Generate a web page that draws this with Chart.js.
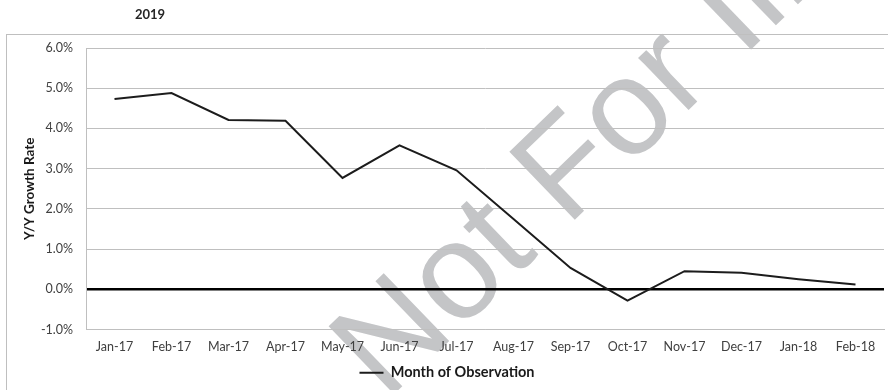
<!DOCTYPE html>
<html>
<head>
<meta charset="utf-8">
<script src="https://cdn.jsdelivr.net/npm/chart.js@4"></script>
<style>
  html, body { margin: 0; padding: 0; background: #fff; }
  #wrap { width: 888px; height: 390px; }
</style>
</head>
<body>
<div id="wrap"><canvas id="myChart" width="888" height="390"></canvas></div>
<script>
// chart data
var months = ['Jan-17', 'Feb-17', 'Mar-17', 'Apr-17', 'May-17', 'Jun-17', 'Jul-17',
              'Aug-17', 'Sep-17', 'Oct-17', 'Nov-17', 'Dec-17', 'Jan-18', 'Feb-18'];
var growth = [4.73, 4.88, 4.21, 4.19, 2.77, 3.58, 2.96, 1.75, 0.53, -0.28, 0.45, 0.41, 0.25, 0.12];
var seriesName = 'Month of Observation';
var yTitle = 'Y/Y Growth Rate';
var chartTitle = '2019';
var watermark = 'Not For Illustration';
var yMin = -1, yMax = 6;

var font = 'Lato, "Liberation Sans", sans-serif';

// frame, title and watermark, drawn under the grid
var backdrop = {
  id: 'backdrop',
  beforeDraw: function(chart) {
    var c = chart.ctx;
    c.save();
    c.fillStyle = '#fff';
    c.fillRect(0, 0, chart.width, chart.height);

    c.save();
    c.translate(386, 402);
    c.rotate(-44 * Math.PI / 180);
    c.fillStyle = '#c4c5c7';
    c.font = '137px "Liberation Sans", Arial, sans-serif';
    c.textAlign = 'left';
    c.textBaseline = 'alphabetic';
    c.fillText(watermark, 0, 0);
    c.restore();

    c.strokeStyle = '#bfbfbf';
    c.lineWidth = 1;
    c.strokeRect(6.5, 34.5, 1000, 500);

    c.fillStyle = '#262626';
    c.font = 'bold 13px ' + font;
    c.textAlign = 'center';
    c.textBaseline = 'middle';
    c.fillText(chartTitle, 150, 15);
    c.restore();
  }
};

new Chart(document.getElementById('myChart').getContext('2d'), {
  type: 'line',
  data: {
    labels: months,
    datasets: [{
      label: seriesName,
      data: growth,
      fill: false,
      borderColor: '#1c1c1c',
      backgroundColor: '#1c1c1c',
      borderWidth: 2,
      pointRadius: 0,
      tension: 0
    }]
  },
  options: {
    responsive: false,
    animation: false,
    layout: { padding: { left: 10, right: 4, top: 48, bottom: 0 } },
    plugins: {
      legend: {
        position: 'bottom',
        labels: {
          usePointStyle: true,
          pointStyle: 'line',
          pointStyleWidth: 24,
          boxHeight: 12,
          color: '#1a1a1a',
          font: { family: font, size: 14.5, weight: 'bold' },
          padding: 1
        }
      },
      tooltip: { enabled: false }
    },
    scales: {
      x: {
        offset: true,
        grid: { display: false, drawTicks: false },
        border: { display: true, color: '#bfbfbf' },
        ticks: { color: '#404040', font: { family: font, size: 12.5 }, padding: 10, maxRotation: 0 }
      },
      y: {
        min: yMin,
        max: yMax,
        afterFit: function(s) { s.width = 76; },
        grid: {
          drawTicks: false,
          color: function(ctx) { return ctx.tick && ctx.tick.value === 0 ? '#000' : '#bfbfbf'; },
          lineWidth: function(ctx) { return ctx.tick && ctx.tick.value === 0 ? 2.4 : 1; }
        },
        border: { display: true, color: '#bfbfbf' },
        ticks: {
          stepSize: 1,
          padding: 13,
          color: '#404040',
          font: { family: font, size: 12.5 },
          callback: function(v) { return v.toFixed(1) + '%'; }
        },
        title: {
          display: true,
          text: yTitle,
          color: '#1a1a1a',
          font: { family: font, size: 13.5, weight: 'bold' },
          padding: { top: 12, bottom: 0 }
        }
      }
    }
  },
  plugins: [backdrop]
});
</script>
</body>
</html>
